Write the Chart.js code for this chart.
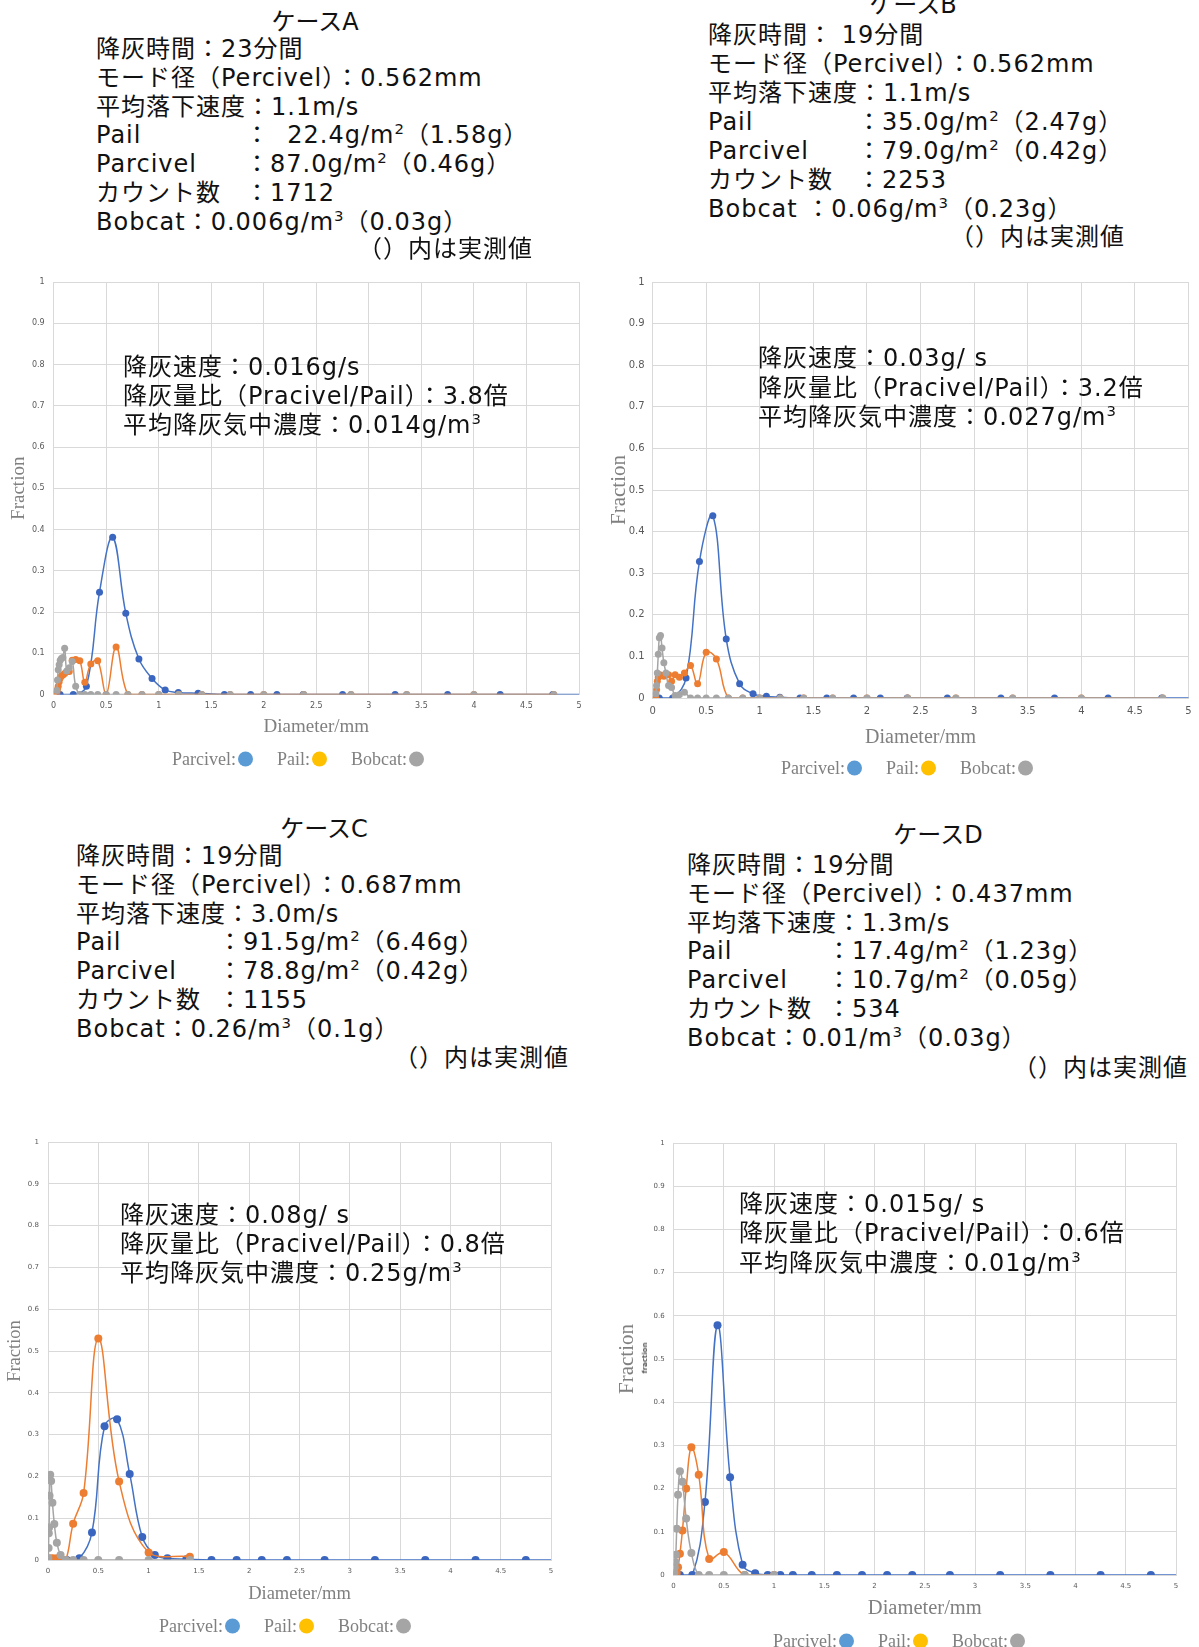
<!DOCTYPE html>
<html lang="ja">
<head>
<meta charset="utf-8">
<title>降灰ケースA〜D 粒径分布</title>
<script src="https://cdn.jsdelivr.net/npm/chart.js@4.4.0/dist/chart.umd.min.js"></script>
<style>
  body { margin: 0; width: 1199px; height: 1647px; position: relative; overflow: hidden; background: #fff;
         font-family: "DejaVu Sans", "Noto Sans CJK JP", sans-serif; color: #111; }
  .abs { position: absolute; white-space: nowrap; }
  .txt { font-size: 24px; line-height: 29px; letter-spacing: 1px; z-index: 2; }
  .ttl { font-size: 24px; line-height: 29px; transform: translate(-50%, -50%); z-index: 2; }
  .note { font-size: 24px; line-height: 29px; letter-spacing: 1px; transform: translate(-100%, -50%); z-index: 2; }
  .lab { display: inline-block; }
  sup { font-size: .62em; line-height: 0; vertical-align: .62em; }
  canvas { position: absolute; z-index: 1; }
  .legend { display: flex; align-items: center; gap: 24px; transform: translate(-50%, -50%); z-index: 2;
            font-family: "Liberation Serif", "DejaVu Serif", serif; font-size: 18px; color: #808080; }
  .dot { display: inline-block; width: 15px; height: 15px; border-radius: 50%; margin-left: 2px; vertical-align: -2px; }
  .tiny { font-size: 7px; font-weight: bold; color: #555; transform: translate(-50%, -50%) rotate(-90deg); z-index: 2; }
</style>
</head>
<body>

<!-- ケースA -->
<div class="abs ttl" style="left:315px; top:22px">ケースA</div>
<div class="abs txt" style="left:96px; top:35px; line-height:28.8px">
  降灰時間：23分間<br>
  モード径（Percivel）：0.562mm<br>
  平均落下速度：1.1m/s<br>
  <span class="lab" style="width:149px">Pail</span>：&nbsp;&nbsp;22.4g/m<sup>2</sup>（1.58g）<br>
  <span class="lab" style="width:149px">Parcivel</span>：87.0g/m<sup>2</sup>（0.46g）<br>
  <span class="lab" style="width:149px">カウント数</span>：1712<br>
  Bobcat：0.006g/m<sup>3</sup>（0.03g）
</div>
<div class="abs note" style="left:533px; top:249px">（）内は実測値</div>

<!-- ケースB -->
<div class="abs ttl" style="left:913px; top:5px">ケースB</div>
<div class="abs txt" style="left:708px; top:21px; line-height:29px">
  降灰時間： 19分間<br>
  モード径（Percivel）：0.562mm<br>
  平均落下速度：1.1m/s<br>
  <span class="lab" style="width:149px">Pail</span>：35.0g/m<sup>2</sup>（2.47g）<br>
  <span class="lab" style="width:149px">Parcivel</span>：79.0g/m<sup>2</sup>（0.42g）<br>
  <span class="lab" style="width:149px">カウント数</span>：2253<br>
  Bobcat ：0.06g/m<sup>3</sup>（0.23g）
</div>
<div class="abs note" style="left:1125px; top:237px">（）内は実測値</div>

<!-- ケースC -->
<div class="abs ttl" style="left:324px; top:829px">ケースC</div>
<div class="abs txt" style="left:76px; top:842px; line-height:28.8px">
  降灰時間：19分間<br>
  モード径（Percivel）：0.687mm<br>
  平均落下速度：3.0m/s<br>
  <span class="lab" style="width:142px">Pail</span>：91.5g/m<sup>2</sup>（6.46g）<br>
  <span class="lab" style="width:142px">Parcivel</span>：78.8g/m<sup>2</sup>（0.42g）<br>
  <span class="lab" style="width:142px">カウント数</span>：1155<br>
  Bobcat：0.26/m<sup>3</sup>（0.1g）
</div>
<div class="abs note" style="left:569px; top:1058px">（）内は実測値</div>

<!-- ケースD -->
<div class="abs ttl" style="left:938px; top:835px">ケースD</div>
<div class="abs txt" style="left:687px; top:851px; line-height:28.8px">
  降灰時間：19分間<br>
  モード径（Percivel）：0.437mm<br>
  平均落下速度：1.3m/s<br>
  <span class="lab" style="width:140px">Pail</span>：17.4g/m<sup>2</sup>（1.23g）<br>
  <span class="lab" style="width:140px">Parcivel</span>：10.7g/m<sup>2</sup>（0.05g）<br>
  <span class="lab" style="width:140px">カウント数</span>：534<br>
  Bobcat：0.01/m<sup>3</sup>（0.03g）
</div>
<div class="abs note" style="left:1188px; top:1068px">（）内は実測値</div>

<canvas id="chartA"></canvas>
<canvas id="chartB"></canvas>
<canvas id="chartC"></canvas>
<canvas id="chartD"></canvas>

<!-- グラフ内の注記 -->
<div class="abs txt" style="left:123px; top:353px">
  降灰速度：0.016g/s<br>
  降灰量比（Pracivel/Pail）：3.8倍<br>
  平均降灰気中濃度：0.014g/m<sup>3</sup>
</div>
<div class="abs txt" style="left:758px; top:344px; line-height:29.5px">
  降灰速度：0.03g/ s<br>
  降灰量比（Pracivel/Pail）：3.2倍<br>
  平均降灰気中濃度：0.027g/m<sup>3</sup>
</div>
<div class="abs txt" style="left:120px; top:1201px">
  降灰速度：0.08g/ s<br>
  降灰量比（Pracivel/Pail）：0.8倍<br>
  平均降灰気中濃度：0.25g/m<sup>3</sup>
</div>
<div class="abs txt" style="left:739px; top:1190px; line-height:29.3px">
  降灰速度：0.015g/ s<br>
  降灰量比（Pracivel/Pail）：0.6倍<br>
  平均降灰気中濃度：0.01g/m<sup>3</sup>
</div>
<div class="abs tiny" style="left:645px; top:1358px">fraction</div>

<!-- 凡例 -->
<div class="abs legend" style="left:298px; top:759px">
  <span>Parcivel:<span class="dot" style="background:#5B9BD5"></span></span>
  <span>Pail:<span class="dot" style="background:#FFC000"></span></span>
  <span>Bobcat:<span class="dot" style="background:#A5A5A5"></span></span>
</div>
<div class="abs legend" style="left:907px; top:768px">
  <span>Parcivel:<span class="dot" style="background:#5B9BD5"></span></span>
  <span>Pail:<span class="dot" style="background:#FFC000"></span></span>
  <span>Bobcat:<span class="dot" style="background:#A5A5A5"></span></span>
</div>
<div class="abs legend" style="left:285px; top:1626px">
  <span>Parcivel:<span class="dot" style="background:#5B9BD5"></span></span>
  <span>Pail:<span class="dot" style="background:#FFC000"></span></span>
  <span>Bobcat:<span class="dot" style="background:#A5A5A5"></span></span>
</div>
<div class="abs legend" style="left:899px; top:1641px">
  <span>Parcivel:<span class="dot" style="background:#5B9BD5"></span></span>
  <span>Pail:<span class="dot" style="background:#FFC000"></span></span>
  <span>Bobcat:<span class="dot" style="background:#A5A5A5"></span></span>
</div>

<script>
// === Daten ===
// Parsivel-Klassenmitten (mm)
const parsivelX = [0.062, 0.187, 0.312, 0.437, 0.562, 0.687, 0.812, 0.937, 1.062, 1.187, 1.375,
                   1.625, 1.875, 2.125, 2.375, 2.75, 3.25, 3.75, 4.25, 4.75, 5.5];
// Siebgrößen 2^(1/4)-Reihe (Fall A, B)
const sieveFineX = [0.031, 0.037, 0.044, 0.053, 0.063, 0.074, 0.088, 0.105, 0.125, 0.149, 0.177,
                    0.21, 0.25, 0.297, 0.354, 0.42, 0.5, 0.595, 0.707, 0.841, 1.0, 1.19, 1.41,
                    1.68, 2.0, 2.38, 2.83, 3.36, 4.0, 4.76];
// Siebgrößen √2-Reihe (Fall C, D)
const pailCX = [0.022, 0.031, 0.044, 0.063, 0.088, 0.125, 0.177, 0.25, 0.354, 0.5, 0.707, 1.0, 1.41];
const bobcatCX = [0.0039, 0.0055, 0.0078, 0.011, 0.0156, 0.022, 0.031, 0.044, 0.063, 0.088, 0.125,
                  0.177, 0.25, 0.354, 0.5, 0.707, 1.0, 1.41];
const pailDX = [0.022, 0.031, 0.044, 0.063, 0.088, 0.125, 0.177, 0.25, 0.354, 0.5, 0.707, 1.0];
const bobcatDX = [0.0078, 0.011, 0.0156, 0.022, 0.031, 0.044, 0.063, 0.088, 0.125, 0.177, 0.25,
                  0.354, 0.5, 0.707, 1.0];

// Fall A
const parcivelA = [0, 0, 0.02, 0.248, 0.381, 0.197, 0.086, 0.039, 0.011, 0.005, 0.003,
                   0, 0, 0, 0, 0, 0, 0, 0, 0, 0];
const pailA = [0.005, 0.012, 0.02, 0.031, 0.04, 0.045, 0.047, 0.051, 0.055, 0.056, 0.083,
               0.085, 0.082, 0.03, 0.074, 0.082, 0, 0.115, 0, 0, 0, 0, 0,
               0, 0, 0, 0, 0, 0, 0];
const bobcatA = [0.01, 0.035, 0.06, 0.072, 0.083, 0.087, 0.09, 0.112, 0.057, 0.065, 0.08,
                 0.02, 0, 0, 0, 0, 0, 0, 0, 0, 0, 0, 0,
                 0, 0, 0, 0, 0, 0, 0];
// Fall B
const parcivelB = [0, 0, 0.048, 0.328, 0.438, 0.142, 0.034, 0.01, 0.004, 0.002, 0,
                   0, 0, 0, 0, 0, 0, 0, 0, 0, 0];
const pailB = [0, 0.02, 0.04, 0.05, 0.055, 0.055, 0.054, 0.052, 0.058, 0.056, 0.04,
               0.056, 0.05, 0.06, 0.078, 0.034, 0.11, 0.094, 0, 0, 0, 0, 0,
               0, 0, 0, 0, 0, 0, 0];
const bobcatB = [0.01, 0.03, 0.06, 0.105, 0.145, 0.15, 0.12, 0.085, 0.06, 0.03, 0.025,
                 0.006, 0.008, 0.014, 0, 0, 0, 0, 0, 0, 0, 0, 0,
                 0, 0, 0, 0, 0, 0, 0];
// Fall C
const parcivelC = [0, 0, 0.004, 0.066, 0.32, 0.337, 0.206, 0.055, 0.012, 0.004, 0.002,
                   0, 0, 0, 0, 0, 0, 0, 0, 0, 0];
const pailC = [0.003, 0.003, 0.004, 0.003, 0.004, 0.004, 0, 0.087, 0.16, 0.53, 0.188, 0.018, 0.008];
const bobcatC = [0.005, 0.029, 0.064, 0.078, 0.154, 0.204, 0.189, 0.137, 0.086, 0.041, 0.012,
                 0, 0, 0, 0, 0, 0, 0];
// Fall D
const parcivelD = [0, 0, 0.169, 0.578, 0.226, 0.024, 0.004, 0, 0, 0, 0,
                   0, 0, 0, 0, 0, 0, 0, 0, 0, 0];
const pailD = [0, 0.005, 0.018, 0.049, 0.103, 0.2, 0.296, 0.232, 0.037, 0.053, 0, 0];
const bobcatD = [0.005, 0.018, 0.03, 0.047, 0.107, 0.186, 0.24, 0.216, 0.131, 0.051, 0,
                 0, 0, 0, 0];

const xTicks = [0, 0.5, 1, 1.5, 2, 2.5, 3, 3.5, 4, 4.5, 5];
const yTicks = [0, 0.1, 0.2, 0.3, 0.4, 0.5, 0.6, 0.7, 0.8, 0.9, 1];

// === Farben ===
const FARBE = {
  parcivel: { line: '#4472C4', dot: '#3B66BF' },
  pail: { line: '#ED7D31', dot: '#ED7D31' },
  bobcat: { line: '#A5A5A5', dot: '#A5A5A5' }
};
const GRID = '#d9d9d9';

function punkte(xs, ys) {
  return xs.map((x, i) => ({ x: x, y: ys[i] }));
}

function serie(label, key, xs, ys, order, r) {
  return {
    label: label,
    data: punkte(xs, ys),
    showLine: true,
    tension: 0.4,
    borderColor: FARBE[key].line,
    backgroundColor: FARBE[key].dot,
    pointBackgroundColor: FARBE[key].dot,
    pointBorderColor: FARBE[key].dot,
    pointBorderWidth: 0,
    borderWidth: 1.5,
    pointRadius: r,
    order: order
  };
}

// Platzierung: canvas-Box, Plotfläche, Achsentitel (alles in Seitenpixeln)
function zeichne(id, box, plot, yTitel, xTitel, tick, datasets) {
  const cv = document.getElementById(id);
  cv.width = box.w; cv.height = box.h;
  cv.style.left = box.left + 'px';
  cv.style.top = box.top + 'px';

  const yLH = yTitel.size * 1.2;
  const xLH = xTitel.size * 1.2;
  const padLeft = yTitel.x - box.left - yLH / 2;
  const yBreite = plot.L - box.left - padLeft;
  const xUnten = xTitel.y - box.top + xLH / 2;
  const xHoehe = xUnten - (plot.B - box.top);

  new Chart(cv, {
    type: 'scatter',
    data: { datasets: datasets },
    options: {
      responsive: false,
      animation: false,
      layout: {
        padding: {
          left: padLeft,
          top: plot.T - box.top,
          right: box.left + box.w - plot.R,
          bottom: box.h - xUnten
        }
      },
      plugins: { legend: { display: false }, tooltip: { enabled: false } },
      scales: {
        x: {
          type: 'linear', min: 0, max: 5,
          afterBuildTicks: s => { s.ticks = xTicks.map(v => ({ value: v })); },
          ticks: {
            autoSkip: false, maxRotation: 0, padding: tick.px,
            color: '#595959', font: { family: 'DejaVu Sans', size: tick.size },
            callback: v => String(+v.toFixed(2))
          },
          grid: { color: GRID, drawTicks: false },
          border: { color: GRID },
          title: {
            display: true, text: 'Diameter/mm', padding: 0, color: '#808080',
            font: { family: 'Liberation Serif', size: xTitel.size }
          },
          afterFit: s => { s.height = xHoehe; }
        },
        y: {
          type: 'linear', min: 0, max: 1,
          afterBuildTicks: s => { s.ticks = yTicks.map(v => ({ value: v })); },
          ticks: {
            autoSkip: false, padding: tick.py,
            color: '#595959', font: { family: 'DejaVu Sans', size: tick.size },
            callback: v => String(+v.toFixed(2))
          },
          grid: { color: GRID, drawTicks: false },
          border: { color: GRID },
          title: {
            display: true, text: 'Fraction', padding: 0, color: '#808080',
            font: { family: 'Liberation Serif', size: yTitel.size }
          },
          afterFit: s => { s.width = yBreite; }
        }
      }
    }
  });
}

zeichne('chartA',
  { left: 0, top: 262, w: 600, h: 520 },
  { L: 53.6, R: 579, T: 282, B: 694.5 },
  { x: 19, size: 19 }, { y: 727, size: 19 },
  { size: 8, px: 7, py: 9 },
  [
    serie('Parcivel', 'parcivel', parsivelX, parcivelA, 3, 3.5),
    serie('Pail', 'pail', sieveFineX, pailA, 2, 3.5),
    serie('Bobcat', 'bobcat', sieveFineX, bobcatA, 1, 3.5)
  ]);

zeichne('chartB',
  { left: 600, top: 262, w: 599, h: 520 },
  { L: 652.6, R: 1188.5, T: 282, B: 698 },
  { x: 619, size: 21 }, { y: 738, size: 20 },
  { size: 10, px: 7, py: 8 },
  [
    serie('Parcivel', 'parcivel', parsivelX, parcivelB, 3, 3.5),
    serie('Pail', 'pail', sieveFineX, pailB, 2, 3.5),
    serie('Bobcat', 'bobcat', sieveFineX, bobcatB, 1, 3.5)
  ]);

zeichne('chartC',
  { left: 0, top: 1122, w: 600, h: 525 },
  { L: 48, R: 551, T: 1142, B: 1560 },
  { x: 15, size: 18.5 }, { y: 1594, size: 18.5 },
  { size: 7, px: 7, py: 9 },
  [
    serie('Parcivel', 'parcivel', parsivelX, parcivelC, 3, 4),
    serie('Pail', 'pail', pailCX, pailC, 2, 4),
    serie('Bobcat', 'bobcat', bobcatCX, bobcatC, 1, 4)
  ]);

zeichne('chartD',
  { left: 600, top: 1122, w: 599, h: 525 },
  { L: 673.6, R: 1176, T: 1143, B: 1575 },
  { x: 627, size: 21 }, { y: 1609, size: 20.5 },
  { size: 7, px: 7, py: 9 },
  [
    serie('Parcivel', 'parcivel', parsivelX, parcivelD, 3, 4),
    serie('Pail', 'pail', pailDX, pailD, 2, 4),
    serie('Bobcat', 'bobcat', bobcatDX, bobcatD, 1, 4)
  ]);
</script>
</body>
</html>
